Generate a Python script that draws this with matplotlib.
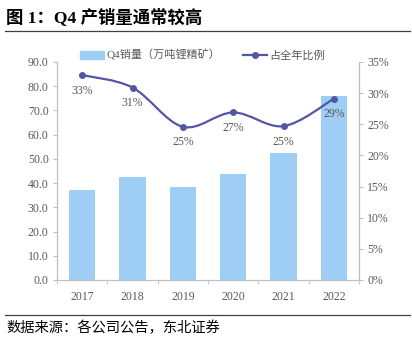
import matplotlib
matplotlib.use("Agg")
import matplotlib.pyplot as plt
from matplotlib.path import Path
from matplotlib.patches import PathPatch, Rectangle
from matplotlib.lines import Line2D
from matplotlib.ticker import FuncFormatter, MultipleLocator
import numpy as np

plt.rcParams['font.family'] = ['Liberation Serif', 'Noto Sans CJK SC']

years = ['2017', '2018', '2019', '2020', '2021', '2022']
q4_sales = [37.0, 42.4, 38.6, 43.6, 52.6, 76.0]       # 万吨锂精矿
q4_share = [0.329, 0.309, 0.246, 0.269, 0.247, 0.291]  # 占全年比例

bar_color = '#9ECEF3'
line_color = '#5555A5'
text_color = '#595959'
axis_color = '#BFBFBF'

fig = plt.figure(figsize=(4.12, 3.42), dpi=100)
ax = fig.add_axes([57/412, 62/342, 302/412, 218/342])
ax2 = ax.twinx()

x = np.arange(len(years))
ax.bar(x, q4_sales, width=0.52, color=bar_color, zorder=2)
ax.set_xlim(-0.5, len(years) - 0.5)
ax.set_ylim(0, 90)
ax.yaxis.set_major_locator(MultipleLocator(10))
ax.yaxis.set_major_formatter(FuncFormatter(lambda v, p: f'{v:.1f}'))
ax.set_xticks(x)
ax.set_xticklabels(years)
ax.set_xticks(np.arange(-0.5, len(years)), minor=True)
ax.tick_params(axis='x', which='major', length=0, pad=8)
ax.tick_params(axis='x', which='minor', length=3, color=axis_color, direction='out')
ax.tick_params(axis='y', length=3, color=axis_color, pad=3)
ax.tick_params(labelsize=8.5, labelcolor=text_color)

# smoothed share line (Catmull-Rom through the points)
xs = np.array(x, dtype=float)
ys = np.array(q4_share)
verts = [(xs[0], ys[0])]
codes = [Path.MOVETO]
t = 1/6
for i in range(len(xs) - 1):
    p0 = (xs[max(i - 1, 0)], ys[max(i - 1, 0)])
    p1 = (xs[i], ys[i])
    p2 = (xs[i + 1], ys[i + 1])
    p3 = (xs[min(i + 2, len(xs) - 1)], ys[min(i + 2, len(xs) - 1)])
    c1 = (p1[0] + (p2[0] - p0[0]) * t, p1[1] + (p2[1] - p0[1]) * t)
    c2 = (p2[0] - (p3[0] - p1[0]) * t, p2[1] - (p3[1] - p1[1]) * t)
    verts += [c1, c2, p2]
    codes += [Path.CURVE4] * 3
ax2.add_patch(PathPatch(Path(verts, codes), facecolor='none', edgecolor=line_color, lw=1.6, zorder=3))
ax2.plot(xs, ys, 'o', color=line_color, ms=4, zorder=4)
for xi, yi in zip(xs, ys):
    ax2.annotate(f'{yi:.0%}', (xi, yi), xytext=(0, -7), textcoords='offset points',
                 ha='center', va='top', fontsize=8.5, color=text_color)

ax2.set_ylim(0, 0.35)
ax2.yaxis.set_major_locator(MultipleLocator(0.05))
ax2.yaxis.set_major_formatter(FuncFormatter(lambda v, p: f'{v*100:.0f}%'))
ax2.tick_params(axis='y', length=3, color=axis_color, labelsize=8.5, labelcolor=text_color, pad=3)

for a in (ax, ax2):
    a.spines['top'].set_visible(False)
    for s in ('left', 'right', 'bottom'):
        a.spines[s].set_color(axis_color)
        a.spines[s].set_linewidth(0.8)

# legend
handles = [Rectangle((0, 0), 1, 1, color=bar_color),
           Line2D([], [], color=line_color, lw=1.6, marker='o', ms=4)]
fig.legend(handles, ['Q4销量（万吨锂精矿）', '占全年比例'], loc='center left',
           bbox_to_anchor=(70/412, 1 - 55/342), ncol=2, frameon=False,
           labelcolor=text_color, handlelength=2.2, handleheight=0.7, columnspacing=2.0,
           handletextpad=0.2, prop={'family': ['Liberation Serif', 'Noto Sans CJK SC'], 'size': 8})

# title, rules and source note
fig.text(6/412, 1 - 17/342, '图 1：Q4 产销量通常较高', fontsize=12.5, fontweight='bold',
         va='center', ha='left', family=['Liberation Serif', 'Noto Sans CJK SC'])
fig.add_artist(Line2D([5/412, 410/412], [1 - 31/342, 1 - 31/342], color='#404040', lw=0.9))
fig.add_artist(Line2D([5/412, 410/412], [1 - 315/342, 1 - 315/342], color='#404040', lw=0.9))
fig.text(6/412, 1 - 328/342, '数据来源：各公司公告，东北证券', fontsize=10.3, va='center', ha='left',
         family=['Noto Sans CJK SC'])

fig.savefig('out.png', dpi=100)
